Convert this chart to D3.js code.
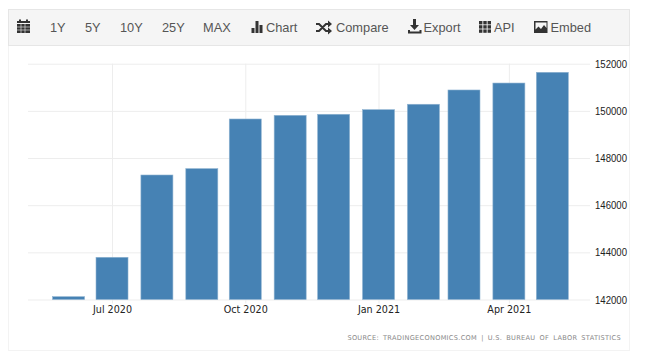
<!DOCTYPE html>
<html>
<head>
<meta charset="utf-8">
<script src="https://cdn.jsdelivr.net/npm/d3@7"></script>
<style>
	html, body { margin: 0; padding: 0; background: #fff; overflow: hidden; }
	svg { display: block; }
	.tool { font-family: "Liberation Sans", Arial, sans-serif; font-size: 12.8px; fill: #555; }
</style>
</head>
<body>
<div id="container"></div>
<script>
	var months = ["2020-06", "2020-07", "2020-08", "2020-09", "2020-10", "2020-11", "2020-12", "2021-01", "2021-02", "2021-03", "2021-04", "2021-05"]
	var values = [142120, 143790, 147280, 147550, 149655, 149810, 149855, 150050, 150280, 150885, 151180, 151635]
	var yTicks = [142000, 144000, 146000, 148000, 150000, 152000]
	var xTicks = ["2020-07", "2020-10", "2021-01", "2021-04"]
	var toolLabels = ["1Y", "5Y", "10Y", "25Y", "MAX", "Chart", "Compare", "Export", "API", "Embed"]
	var toolX = [50, 85, 120, 162, 203, 266, 336, 423.5, 494, 550.5]
	var source = "SOURCE: TRADINGECONOMICS.COM | U.S. BUREAU OF LABOR STATISTICS"

	var w = 649
	var h = 360
	var boundaries = {
		bottom: 299.5,
		top: 63.7,
		left: 28,
		right: 590
	}
	var barWidth = 32

	var parseMonth = d3.timeParse("%Y-%m")

	var svg = d3.select("#container")
		.append("svg")
		.attr("width", w)
		.attr("height", h)

	// Frame round the chart
	svg.append("rect")
		.attr("x", 8.5).attr("y", 30.5)
		.attr("width", 621).attr("height", 320)
		.attr("fill", "#fff")
		.attr("stroke", "#f3f3f3")

	// Toolbar
	svg.append("rect")
		.attr("x", 8.5).attr("y", 9.5)
		.attr("width", 621).attr("height", 36)
		.attr("fill", "#f5f5f5")
		.attr("stroke", "#e6e6e6")

	svg.selectAll(".tool")
		.data(toolLabels)
		.enter()
		.append("text").attr("class", "tool")
		.attr("x", (d, i) => toolX[i])
		.attr("y", 32)
		.text(d => d)

	let icons = svg.append("g").attr("fill", "#333")

	// Calendar
	icons.append("path")
		.attr("d", "M17 21h13v2h-13z M17 24h13v9h-13z M19 19.5h2v2h-2z M26 19.5h2v2h-2z")
	icons.append("path")
		.attr("d", "M17 27h13 M17 30h13 M21 24v9 M25 24v9")
		.attr("stroke", "#f5f5f5").attr("stroke-width", 0.6)

	// Chart bars
	icons.append("path")
		.attr("d", "M251.5 28h3v5h-3z M255.5 21h3v12h-3z M259.5 25h3v8h-3z")

	// Shuffle
	icons.append("path")
		.attr("d", "M316 24h3l7 7h3 M316 31h3l7-7h3")
		.attr("fill", "none").attr("stroke", "#333").attr("stroke-width", 2)
	icons.append("path")
		.attr("d", "M328 20.5l4 3.5l-4 3.5z M328 27.500l4 3.5l-4 3.5z")

	// Export
	icons.append("path")
		.attr("d", "M413 19h3v6h3l-4.500 5l-4.500-5h3z M408 30h2v1.500h9.500v-1.500h2v3.500h-13.500z")

	// API grid
	d3.range(3).forEach(col => {
		d3.range(3).forEach(row => {
			icons.append("rect")
				.attr("x", 479 + col * 4.3).attr("y", 21 + row * 4.2)
				.attr("width", 3.4).attr("height", 3.4)
		})
	})

	// Embed picture
	icons.append("path")
		.attr("fill-rule", "evenodd")
		.attr("d", "M534 21h13.500v12h-13.500z M535.500 22.500v7l3-3l2.500 2.500l3-4l2.500 3v-5.500z")

	let draw = () => {
		let data = months.map((m, i) => ({ date: parseMonth(m), value: values[i] }))

		// x Scale
		let xScale = d3.scaleTime()
			.domain([new Date(2020, 4, 4), new Date(2021, 4, 27)])
			.range([boundaries.left, boundaries.right])

		let xDates = xTicks.map(parseMonth)

		// y Scale
		let yScale = d3.scaleLinear()
			.domain([142000, 152000])
			.range([boundaries.bottom, boundaries.top])

		// Grid
		let xGrid = d3.axisBottom(xScale)
			.tickValues(xDates)
			.tickSize(boundaries.top - boundaries.bottom - 4)
			.tickFormat("")

		let yGrid = d3.axisRight(yScale)
			.tickValues(yTicks)
			.tickSize(boundaries.left - boundaries.right)
			.tickFormat("")

		svg.append("g")
			.attr("transform", "translate(0, " + (boundaries.bottom + 4) + ")")
			.call(xGrid)
			.call(g => g.select(".domain").remove())
			.call(g => g.selectAll("line").attr("stroke", "#ededed"))

		svg.append("g")
			.attr("transform", "translate(" + boundaries.right + ", 0)")
			.call(yGrid)
			.call(g => g.select(".domain").remove())
			.call(g => g.selectAll("line").attr("stroke", "#ededed"))

		// Bars
		svg.selectAll(".bar")
			.data(data)
			.enter()
			.append("rect").attr("class", "bar")
			.attr("x", d => xScale(d.date) - barWidth / 2)
			.attr("y", d => yScale(d.value))
			.attr("width", barWidth)
			.attr("height", d => boundaries.bottom - yScale(d.value))
			.attr("fill", "#4682b4")
			.attr("stroke", "#8fb3d1")
			.attr("stroke-width", 0.6)

		// x labels
		let xAxis = d3.axisBottom(xScale)
			.tickValues(xDates)
			.tickSize(0)
			.tickPadding(6.5)
			.tickFormat(d3.timeFormat("%b %Y"))

		svg.append("g")
			.attr("transform", "translate(0, " + boundaries.bottom + ")")
			.call(xAxis)
			.call(g => g.select(".domain").remove())
			.call(g => g.selectAll("text")
				.attr("font-family", "'DejaVu Sans', sans-serif")
				.attr("font-size", 9.6)
				.attr("fill", "#222"))

		// y labels, squeezed a little to the reference's narrow digits
		let yAxis = d3.axisRight(yScale)
			.tickValues(yTicks)
			.tickSize(0)
			.tickPadding(5)
			.tickFormat(d3.format("d"))

		svg.append("g")
			.attr("transform", "translate(" + boundaries.right + ", 0)")
			.call(yAxis)
			.call(g => g.select(".domain").remove())
			.call(g => g.selectAll("text")
				.attr("font-family", "'Liberation Sans', Arial, sans-serif")
				.attr("font-size", 11)
				.attr("textLength", 32)
				.attr("lengthAdjust", "spacingAndGlyphs")
				.attr("fill", "#222"))

		// Source line
		svg.append("text")
			.attr("x", 621)
			.attr("y", 339.5)
			.style("text-anchor", "end")
			.attr("font-family", "'DejaVu Sans', sans-serif")
			.attr("font-size", 6.6)
			.attr("letter-spacing", 0.3)
			.attr("word-spacing", 1.7)
			.attr("fill", "#888")
			.text(source)
	}

	draw()
</script>
</body>
</html>
